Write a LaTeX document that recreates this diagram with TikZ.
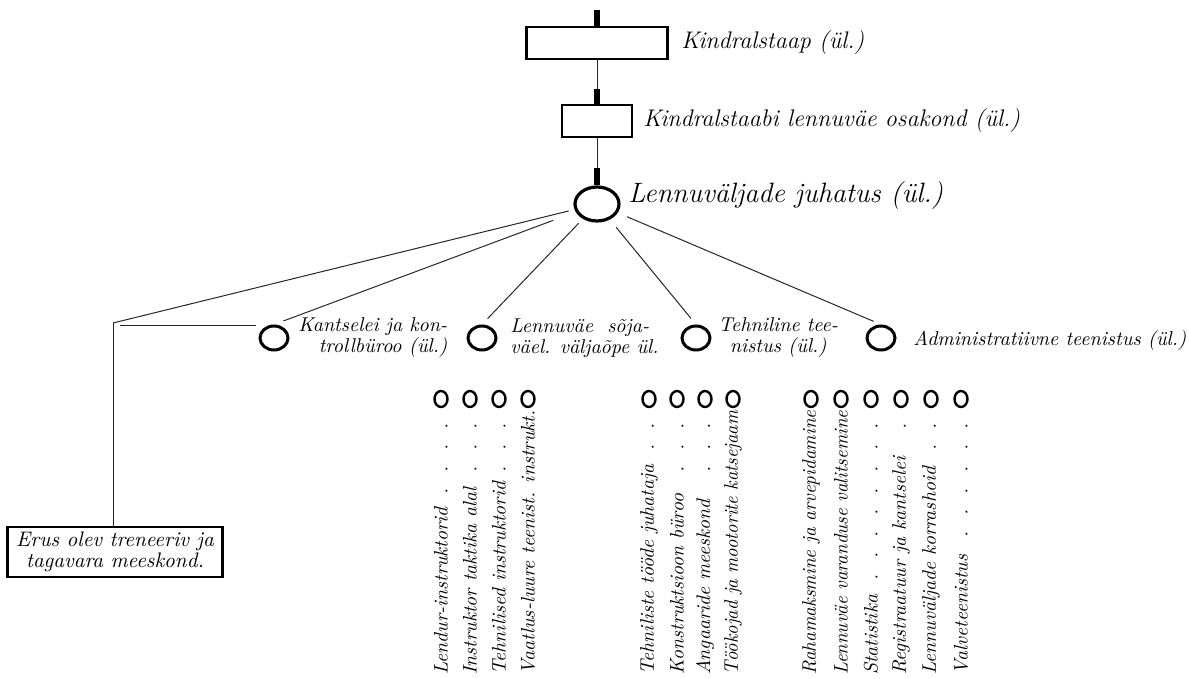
\documentclass[tikz,border=0pt]{standalone}
\usepackage{fontspec}
\usetikzlibrary{shapes.geometric}

\def\colheight{132pt}
\newcommand\dotlead[1]{\hbox to \colheight{#1\leaders\hbox to 10.8pt{\hss.\hss}\hfil}}
\newcommand\fullcol[1]{\resizebox{\colheight}{\height}{#1}}

\tikzset{
  conn/.style={black!85, line width=0.5pt},
  tick/.style={line width=3pt},
  staffbox/.style={draw, line width=1.25pt, minimum height=16pt, inner sep=0pt},
  bigring/.style={ellipse, draw, line width=1.6pt, minimum width=22pt, minimum height=17pt, inner sep=0pt},
  ring/.style={ellipse, draw, line width=1.5pt, minimum width=14pt, minimum height=12pt, inner sep=0pt},
  smallring/.style={ellipse, draw, line width=1.2pt, minimum width=6.5pt, minimum height=8pt, inner sep=0pt},
  toplbl/.style={anchor=west, inner sep=0pt, font=\itshape\fontsize{12}{14}\selectfont},
  midlbl/.style={anchor=west, inner sep=0pt, font=\itshape\fontsize{10}{10.5}\selectfont},
  coltxt/.style={rotate=90, anchor=west, inner sep=0pt, font=\itshape\fontsize{9.8}{9.8}\selectfont},
  erbox/.style={draw, line width=1.2pt, align=center, minimum width=107.5pt, minimum height=25pt,
    inner sep=1pt, font=\itshape\fontsize{10.5}{8.5}\selectfont}
}

\begin{document}
\begin{tikzpicture}[x=0.5pt, y=-0.5pt]
  \useasboundingbox (0,0) rectangle (1189,679);
  % top of the chart
  \coordinate (t1) at (597,10);
  \node[staffbox, minimum width=70.5pt] (ks) at (597,43) {};
  \coordinate (t2) at (597,89);
  \node[staffbox, minimum width=35pt] (ls) at (597,121) {};
  \coordinate (t3) at (597,168);
  \node[bigring] (mc) at (597,204) {};
  \draw[tick] (t1) -- (ks.north);
  \draw[conn] (ks) -- (t2);
  \draw[tick] (t2) -- (ls.north);
  \draw[conn] (ls) -- (t3);
  \draw[tick] (t3) -- (mc.north);
  \node[toplbl] (ksl) at (681,43) {Kindralstaap (ül.)};
  \node[toplbl] (lsl) at (643,121) {Kindralstaabi lennuväe osakond (ül.)};
  \node[toplbl, font=\itshape\fontsize{14}{16}\selectfont] (mcl) at (628,196) {Lennuväljade juhatus (ül.)};

  \node[ring] (kk) at (274,338) {};
  \node[midlbl, align=right] (kkl) at (298,338) {Kantselei ja kon-\\trollbüroo (ül.)};
  \node[ring] (lv) at (482,338) {};
  \node[midlbl, align=left] (lvl) at (510,338) {Lennuväe \ sõja-\\väel. väljaõpe ül.};
  \node[ring] (tt) at (696,338) {};
  \node[midlbl, align=center] (ttl) at (718,338) {Tehniline tee-\\nistus (ül.)};
  \node[ring] (ad) at (881,338) {};
  \node[midlbl] (adl) at (913,340) {Administratiivne teenistus (ül.)};

  \node[erbox] (eb) at (115,552) {Erus olev treneeriv ja\\tagavara meeskond.};
  \coordinate (lt) at (113,323);
  \coordinate (hs) at (120,326);
  \draw[conn, shorten <=3pt] (mc) -- (lt);
  \draw[conn, shorten <=12pt, shorten >=5pt] (mc) -- (kk.north);
  \draw[conn, shorten <=3pt, shorten >=4pt] (mc) -- (lv.north);
  \draw[conn, shorten <=5pt, shorten >=4pt] (mc) -- (tt.north);
  \draw[conn, shorten <=5pt, shorten >=4pt] (mc) -- (ad.north);
  \draw[conn, shorten >=1.5pt] (hs) -- (hs -| kk.west);
  \draw[conn] (lt) -- (lt |- eb.north);

  % columns under the services
  \foreach \x/\t [count=\i] in {441/\dotlead{Lendur-instruktorid},
      470/\dotlead{Instruktor taktika alal},
      499/\dotlead{Tehnilised instruktorid},
      528/\fullcol{Vaatlus-luure teenist. instrukt.}}{
    \node[smallring] (a\i) at (\x,399) {};
    \node[coltxt] (ac\i) at (\x,675) {\t};
  }
  \foreach \x/\t [count=\i] in {649/\dotlead{Tehniliste tööde juhataja},
      677/\dotlead{Konstruktsioon büroo},
      705/\dotlead{Angaaride meeskond},
      733/\fullcol{Töökojad ja mootorite katsejaam}}{
    \node[smallring] (b\i) at (\x,399) {};
    \node[coltxt] (bc\i) at (\x,675) {\t};
  }
  \foreach \x/\t [count=\i] in {811/\fullcol{Rahamaksmine ja arvepidamine},
      841/\fullcol{Lennuväe varanduse valitsemine},
      871/\dotlead{Statistika},
      901/\dotlead{Registraatuur ja kantselei},
      931/\dotlead{Lennuväljade korrashoid},
      961/\dotlead{Valveteenistus}}{
    \node[smallring] (d\i) at (\x,399) {};
    \node[coltxt] (dc\i) at (\x,675) {\t};
  }
\end{tikzpicture}
\end{document}
